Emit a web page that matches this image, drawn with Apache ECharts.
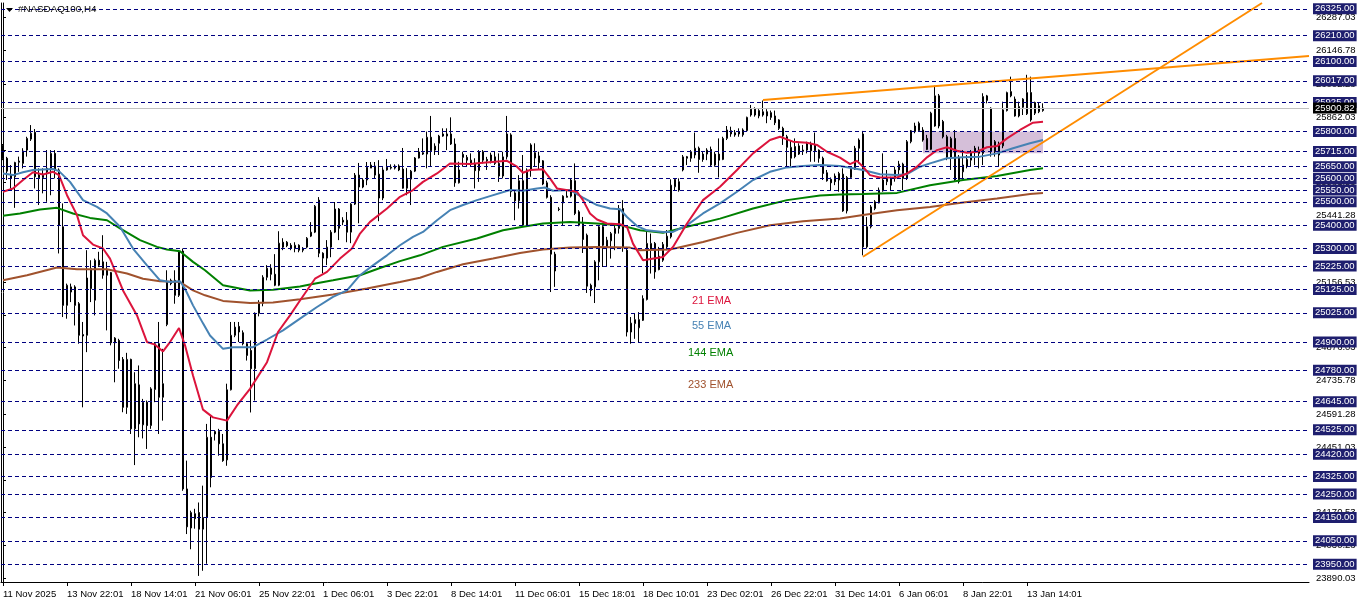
<!DOCTYPE html>
<html><head><meta charset="utf-8">
<script src="https://cdn.jsdelivr.net/npm/echarts@6/dist/echarts.min.js"></script>
<style>html,body{margin:0;padding:0;background:#fff}#c{width:1362px;height:603px}</style>
</head><body><div id="c"></div>
<script>
const symbolTitle = '#NASDAQ100,H4';
const slotCount = 327;
const categories = Array.from({length: slotCount}, (_, i) => String(i));
const xTickLabels = ['11 Nov 2025','13 Nov 22:01','18 Nov 14:01','21 Nov 06:01','25 Nov 22:01','1 Dec 06:01','3 Dec 22:01','8 Dec 14:01','11 Dec 06:01','15 Dec 18:01','18 Dec 10:01','23 Dec 02:01','26 Dec 22:01','31 Dec 14:01','6 Jan 06:01','8 Jan 22:01','13 Jan 14:01'];
const tickEvery = 16;

const opens = [25740,25686,25614,25607,25669,25664,25721,25768,25797,25614,
25603,25643,25643,25707,25636,25393,25057,25114,25136,25064,
24932,24929,25214,25079,25250,25243,25207,25197,24897,24907,
24826,24621,24826,24529,24717,24546,24643,24543,24697,24893,
24664,24975,25164,25164,25100,25289,24272,24105,24166,24171,
24100,24150,24493,24507,24518,24465,24396,24696,24929,24967,
24940,24893,24864,24786,25023,25066,25177,25216,25190,25143,
25327,25327,25314,25301,25314,25301,25306,25353,25370,25507,
25280,25259,25306,25370,25469,25421,25421,25370,25490,25614,
25563,25593,25644,25653,25618,25516,25636,25644,25644,25653,
25640,25558,25597,25631,25687,25704,25704,25776,25721,25750,
25781,25781,25790,25747,25581,25703,25690,25661,25664,25633,
25714,25681,25675,25692,25664,25610,25692,25786,25538,25504,
25590,25400,25636,25687,25696,25675,25581,25519,25276,25469,
25495,25519,25524,25590,25457,25407,25357,25143,25136,25243,
25393,25307,25333,25364,25386,25471,25293,24943,24979,24961,
24993,25082,25296,25322,25267,25250,25307,25350,25564,25550,
25636,25686,25686,25700,25729,25704,25704,25724,25657,25704,
25681,25771,25804,25795,25800,25786,25804,25871,25896,25867,
25871,25885,25881,25867,25850,25814,25778,25686,25736,25704,
25721,25721,25747,25743,25721,25686,25624,25596,25610,25593,
25618,25461,25604,25639,25764,25790,25307,25393,25471,25495,
25547,25586,25600,25600,25636,25661,25600,25757,25800,25804,
25807,25771,25724,25824,25953,25843,25778,25686,25771,25690,
25628,25653,25678,25729,25721,25707,25933,25900,25757,25700,
25739,25890,25971,25939,25867,25904,25876,25967,25924,25885,
25890];
const highs = [25747,25692,25657,25671,25693,25729,25778,25828,25811,25643,
25643,25721,25721,25721,25643,25493,25150,25150,25143,25071,
24986,25293,25250,25257,25286,25357,25243,25200,24921,24914,
24836,24854,24829,24771,24800,24657,24650,24707,24900,24986,
24871,25207,25171,25207,25293,25300,24393,24179,24187,24214,
24286,24550,24586,24522,24529,24507,24722,24986,24986,24986,
24950,24900,24907,25027,25079,25186,25229,25233,25276,25374,
25344,25332,25323,25327,25318,25306,25349,25413,25486,25520,
25284,25336,25379,25499,25473,25434,25456,25494,25623,25666,
25601,25670,25670,25670,25678,25648,25683,25660,25660,25660,
25730,25644,25636,25691,25730,25771,25800,25867,25750,25786,
25814,25814,25861,25771,25671,25714,25700,25707,25686,25721,
25721,25692,25710,25714,25707,25714,25867,25793,25550,25614,
25700,25643,25750,25750,25714,25678,25590,25528,25286,25477,
25528,25550,25600,25664,25464,25435,25364,25150,25250,25400,
25400,25350,25371,25407,25486,25507,25307,25007,25021,25028,
25100,25371,25364,25328,25307,25328,25379,25596,25600,25600,
25700,25696,25721,25796,25736,25714,25729,25736,25714,25771,
25778,25824,25821,25807,25814,25814,25864,25914,25904,25896,
25933,25896,25890,25890,25853,25821,25786,25764,25771,25750,
25743,25757,25757,25796,25724,25693,25636,25604,25621,25628,
25643,25610,25650,25739,25771,25803,25435,25486,25507,25561,
25707,25636,25607,25650,25675,25667,25764,25807,25838,25843,
25819,25786,25885,25996,25961,25850,25786,25778,25807,25700,
25721,25700,25721,25739,25736,25964,25957,25904,25764,25757,
25928,25971,26035,25950,25928,25943,26043,26035,25928,25924,
25921];
const lows = [25678,25593,25557,25474,25628,25643,25693,25760,25557,25486,
25536,25500,25528,25600,25279,25007,25000,25071,24971,24893,
24621,24857,25071,25014,25221,25171,24950,24886,24728,24786,
24600,24593,24507,24374,24493,24488,24443,24529,24643,24507,
24564,24968,25143,25064,25093,24264,24079,24014,24102,23900,
23922,23952,24279,24479,24414,24388,24371,24693,24921,24900,
24886,24821,24599,24650,25010,25053,25164,25164,25139,25139,
25293,25306,25293,25284,25284,25284,25301,25349,25366,25263,
25194,25229,25263,25366,25336,25400,25327,25323,25486,25408,
25558,25571,25644,25601,25417,25507,25633,25638,25638,25631,
25556,25528,25486,25627,25685,25700,25643,25650,25700,25700,
25778,25721,25743,25564,25578,25650,25650,25650,25557,25585,
25664,25636,25664,25657,25585,25600,25681,25521,25421,25471,
25393,25393,25607,25650,25639,25571,25514,25114,25136,25460,
25400,25518,25518,25443,25395,25281,25110,25096,25067,25164,
25221,25221,25257,25293,25364,25286,24924,24893,24914,24900,
24990,25078,25193,25171,25207,25243,25293,25343,25550,25543,
25630,25657,25671,25686,25624,25671,25678,25650,25650,25604,
25678,25764,25778,25778,25778,25778,25800,25864,25864,25857,
25864,25836,25850,25828,25807,25743,25650,25647,25686,25700,
25700,25707,25671,25671,25667,25593,25586,25550,25571,25543,
25457,25450,25600,25636,25664,25271,25300,25386,25464,25493,
25543,25571,25550,25586,25614,25550,25593,25750,25793,25800,
25757,25721,25721,25821,25814,25771,25678,25636,25586,25578,
25593,25643,25650,25657,25643,25657,25921,25693,25693,25650,
25729,25886,25947,25864,25861,25871,25871,25843,25871,25879,
25885];
const closes = [25686,25631,25600,25668,25674,25717,25771,25793,25607,25603,
25617,25628,25707,25636,25400,25057,25143,25136,25057,24929,
24926,25174,25129,25250,25229,25186,25186,24897,24917,24821,
24621,24826,24529,24722,24550,24643,24543,24700,24893,24664,
24722,25157,25150,25100,25286,24272,24110,24171,24145,24100,
24150,24493,24321,24518,24465,24393,24696,24929,24964,24943,
24893,24843,24786,25023,25066,25177,25216,25190,25143,25323,
25306,25312,25301,25314,25293,25293,25344,25370,25481,25280,
25259,25306,25370,25469,25387,25413,25370,25490,25614,25563,
25593,25648,25657,25614,25516,25636,25648,25648,25653,25636,
25558,25597,25631,25687,25713,25710,25776,25718,25738,25781,
25790,25790,25747,25581,25636,25690,25678,25678,25633,25714,
25678,25675,25700,25664,25610,25692,25790,25543,25504,25590,
25400,25636,25743,25710,25667,25576,25519,25276,25204,25467,
25524,25524,25593,25450,25400,25339,25139,25121,25243,25393,
25314,25336,25364,25386,25471,25307,24943,24981,24996,24996,
25086,25322,25322,25200,25210,25318,25353,25571,25596,25586,
25692,25693,25714,25729,25681,25681,25721,25657,25704,25678,
25771,25807,25790,25786,25790,25807,25861,25896,25871,25890,
25885,25867,25861,25838,25814,25781,25733,25733,25693,25739,
25716,25747,25718,25718,25686,25621,25590,25581,25586,25621,
25461,25604,25639,25729,25729,25307,25393,25478,25500,25550,
25593,25600,25571,25636,25661,25600,25757,25804,25824,25836,
25764,25724,25879,25953,25824,25778,25690,25771,25593,25586,
25657,25681,25710,25714,25707,25950,25953,25714,25714,25743,
25893,25967,25953,25867,25907,25939,25967,25850,25879,25910,
25901];

// EMA readings: [bar index, price]
const ema21 = [[0,25543],[2.5,25557],[5,25593],[7.5,25626],[10,25617],[12.5,25628],[14,25614],[16,25528],[18.5,25443],[20,25357],[22.5,25317],[25,25300],[26.75,25257],[30,25121],[33.5,25014],[36,24900],[38,24889],[40,24860],[41.75,24900],[44,24960],[45.5,24886],[47.5,24757],[50,24611],[52.5,24578],[56,24564],[58.5,24629],[61.75,24700],[66,24814],[68.75,24943],[71.75,25014],[74.25,25078],[78,25171],[81,25200],[84.25,25257],[87.25,25300],[89.25,25364],[91.75,25414],[96,25471],[99.25,25521],[102.5,25550],[105,25585],[108.5,25621],[111.75,25664],[116.75,25661],[120,25667],[126,25675],[128.5,25650],[130,25624],[131.75,25636],[135,25639],[136.75,25600],[138.5,25557],[143.5,25543],[145,25507],[146.75,25450],[148.5,25424],[151,25407],[154.25,25404],[156,25393],[157.5,25321],[160,25250],[165,25264],[167.5,25307],[171,25407],[175,25507],[179.25,25564],[183.5,25636],[187.5,25707],[191.75,25764],[194.25,25778],[197.5,25757],[201,25752],[203.5,25743],[206,25714],[209.25,25689],[211.75,25661],[213.5,25675],[215,25650],[216.75,25614],[219.25,25604],[223.5,25604],[226,25621],[228.5,25650],[231,25690],[233.5,25721],[236,25733],[238.5,25718],[241,25710],[243.5,25714],[246,25733],[248.5,25738],[251,25771],[254.25,25807],[257.5,25838],[260,25842]];
const ema55 = [[0,25621],[2.5,25614],[5,25626],[7.5,25636],[12.5,25640],[14,25631],[16.75,25585],[20,25507],[23.5,25478],[26,25450],[29.25,25393],[32.5,25300],[36,25228],[39.25,25164],[41.75,25157],[44.25,25160],[45.5,25128],[47.5,25057],[50,24980],[51.75,24928],[55,24871],[57.5,24878],[62.5,24878],[66,24911],[70,24950],[74.25,25000],[78.5,25050],[82.5,25093],[86,25121],[89.25,25186],[92.5,25228],[96,25271],[99.25,25314],[102.5,25350],[105,25371],[108.5,25421],[111.75,25464],[115,25486],[118.5,25507],[121.75,25524],[126.75,25550],[130,25547],[133.5,25557],[135.5,25561],[137.5,25547],[141.75,25550],[145,25518],[148.5,25486],[151.75,25471],[154.25,25468],[156,25435],[158.5,25396],[161,25378],[165,25371],[167.5,25371],[171,25400],[175,25450],[179.25,25493],[183.5,25543],[187.5,25593],[191.75,25628],[196,25647],[200,25653],[204.25,25657],[209.25,25653],[215,25636],[219.25,25618],[223.5,25614],[226,25618],[229.25,25650],[231.75,25664],[236,25686],[240,25690],[244.25,25693],[248.5,25707],[252.5,25729],[256.75,25750],[260,25764]];
const ema144 = [[0,25440],[4.25,25450],[9.25,25467],[13.5,25474],[17.5,25450],[21.75,25431],[26,25421],[29.25,25386],[34.25,25336],[38.5,25307],[41,25296],[44.25,25288],[47.5,25243],[50.5,25207],[55,25143],[61.75,25121],[67.5,25124],[74.25,25138],[76.75,25146],[82.5,25164],[89.25,25186],[94.25,25217],[99.25,25246],[104.25,25271],[110,25307],[118.5,25343],[125,25378],[130,25393],[135,25407],[141.75,25414],[148.5,25407],[154.25,25400],[159.25,25378],[165,25367],[171,25393],[179.25,25428],[187.5,25471],[196,25507],[204.25,25527],[209.25,25531],[215,25533],[223.5,25538],[231.75,25571],[240,25593],[248.5,25610],[256.75,25636],[260,25643]];
const ema233 = [[0,25164],[6,25186],[13.5,25219],[18.5,25211],[26,25211],[31,25193],[35,25171],[39.25,25160],[44.25,25157],[47.5,25121],[50.5,25100],[55,25076],[61.75,25067],[67.5,25069],[74.25,25083],[82.5,25103],[91,25129],[99.25,25157],[104.25,25175],[108.5,25200],[115,25233],[122.5,25257],[129.25,25281],[135,25296],[141.75,25304],[148.5,25307],[156.75,25304],[159.25,25293],[166.75,25296],[175,25328],[183.5,25367],[191.75,25400],[200,25417],[209.25,25428],[215,25443],[223.5,25464],[231.75,25478],[240,25497],[248.5,25514],[256.75,25533],[260,25538]];

const upperTrend = [[190,25935.5],[326.5,26123]];
const lowerTrend = [[215,25265],[314.75,26350]];
const zoneBars = [230, 260];
const zonePrices = [25800, 25708];

const levelPrices = [26325,26210,26100,26017,25925,25800,25715,25650,25600,25550,25500,25400,25300,25225,25125,25025,24900,24780,24645,24525,24420,24325,24250,24150,24050,23950];
const axisPrices = [26287.03,26146.78,26002.28,25862.03,25721.78,25581.53,25441.28,25301.03,25156.53,25016.28,24876.03,24735.78,24591.28,24451.03,24310.78,24170.53,24030.28,23890.03];
const bidPrice = 25900.82;
const yMin = 23874, yMax = 26350;
const emaNames = ['21 EMA','55 EMA','144 EMA','233 EMA'];
const emaColors = ['#dc143c','#4682b4','#008000','#a0522d'];

const FONT = 'Liberation Sans';
const candleData = opens.map((o, i) => [o, closes[i], lows[i], highs[i]]);
const showTick = (i) => i % tickEvery === 0 && i / tickEvery < xTickLabels.length;

const chart = echarts.init(document.getElementById('c'), null, {renderer: 'canvas'});
const lineSeries = (name, data, color, z) => ({
  name, type: 'line', xAxisIndex: 1, yAxisIndex: 0, data, showSymbol: false, symbol: 'none',
  lineStyle: {color, width: 2}, silent: true, z, animation: false
});

chart.setOption({
  animation: false,
  backgroundColor: '#ffffff',
  grid: {left: 1, right: 53, top: 3, bottom: 21, containLabel: false},
  xAxis: [{
    type: 'category', data: categories, boundaryGap: true,
    axisLine: {show: true, lineStyle: {color: '#000', width: 1}},
    axisTick: {show: true, interval: showTick, alignWithLabel: true, length: 4, lineStyle: {color: '#000'}},
    axisLabel: {interval: showTick, align: 'left', margin: 7, color: '#000', fontSize: 9.5, fontFamily: FONT,
      formatter: (v, i) => showTick(i) ? xTickLabels[i / tickEvery] : ''},
    splitLine: {show: false}
  }, {
    type: 'value', min: -0.5, max: slotCount - 0.5, show: false
  }],
  yAxis: [{
    type: 'value', position: 'right', min: yMin, max: yMax, offset: 2,
    axisLine: {show: true, lineStyle: {color: '#000'}},
    axisTick: {show: true, customValues: axisPrices, length: 3, lineStyle: {color: '#000'}},
    axisLabel: {customValues: axisPrices, formatter: v => Number(v).toFixed(2), color: '#000', fontSize: 9.5, fontFamily: FONT, margin: 5},
    splitLine: {show: false}
  }, {
    type: 'value', position: 'left', min: yMin, max: yMax,
    axisLine: {show: true, lineStyle: {color: '#000'}},
    axisTick: {show: false}, axisLabel: {show: false}, splitLine: {show: false}
  }],
  series: [
    {
      name: 'zone', type: 'line', xAxisIndex: 1, yAxisIndex: 0, data: [], silent: true,
      markArea: {silent: true, itemStyle: {color: '#d5bfd9'},
        data: [[{coord: [zoneBars[0], zonePrices[0]]}, {coord: [zoneBars[1], zonePrices[1]]}]]}
    },
    {
      name: 'levels', type: 'line', xAxisIndex: 1, yAxisIndex: 0, data: [], silent: true,
      markLine: {
        silent: true, symbol: 'none', animation: false,
        lineStyle: {color: '#000080', type: [4, 3], width: 1},
        label: {show: true, position: 'end', distance: 4, formatter: p => Number(p.value).toFixed(2),
          color: '#ffffff', backgroundColor: '#1e1e6e', padding: [1, 2, 0, 2], fontSize: 9.5, fontFamily: FONT},
        data: levelPrices.map(v => ({yAxis: v})).concat([{
          yAxis: bidPrice, lineStyle: {color: '#c0c0c0', type: 'solid', width: 1},
          label: {backgroundColor: '#000000', color: '#ffffff'}
        }])
      }
    },
    {
      name: symbolTitle, type: 'candlestick', xAxisIndex: 0, yAxisIndex: 0, data: candleData,
      barWidth: 2, z: 2,
      itemStyle: {color: '#ffffff', color0: '#000000', borderColor: '#000000', borderColor0: '#000000', borderWidth: 1}
    },
    lineSeries('EMA233', ema233, emaColors[3], 3),
    lineSeries('EMA144', ema144, emaColors[2], 3),
    lineSeries('EMA55', ema55, emaColors[1], 3),
    lineSeries('EMA21', ema21, emaColors[0], 3),
    lineSeries('upper', upperTrend, '#ff8c00', 4),
    lineSeries('lower', lowerTrend, '#ff8c00', 4)
  ],
  graphic: [
    {type: 'polygon', shape: {points: [[6, 8], [13, 8], [9.5, 12]]}, style: {fill: '#000'}, z: 10},
    {type: 'text', left: 18, top: 4, style: {text: symbolTitle, fill: '#000', font: '9.8px "Liberation Sans"'}, z: 10},
    {type: 'text', left: 692, top: 295, style: {text: emaNames[0], fill: emaColors[0], font: '11px "Liberation Sans"'}, z: 10},
    {type: 'text', left: 692, top: 320, style: {text: emaNames[1], fill: emaColors[1], font: '11px "Liberation Sans"'}, z: 10},
    {type: 'text', left: 688, top: 347, style: {text: emaNames[2], fill: emaColors[2], font: '11px "Liberation Sans"'}, z: 10},
    {type: 'text', left: 688, top: 379, style: {text: emaNames[3], fill: emaColors[3], font: '11px "Liberation Sans"'}, z: 10}
  ]
});
</script>
</body></html>
